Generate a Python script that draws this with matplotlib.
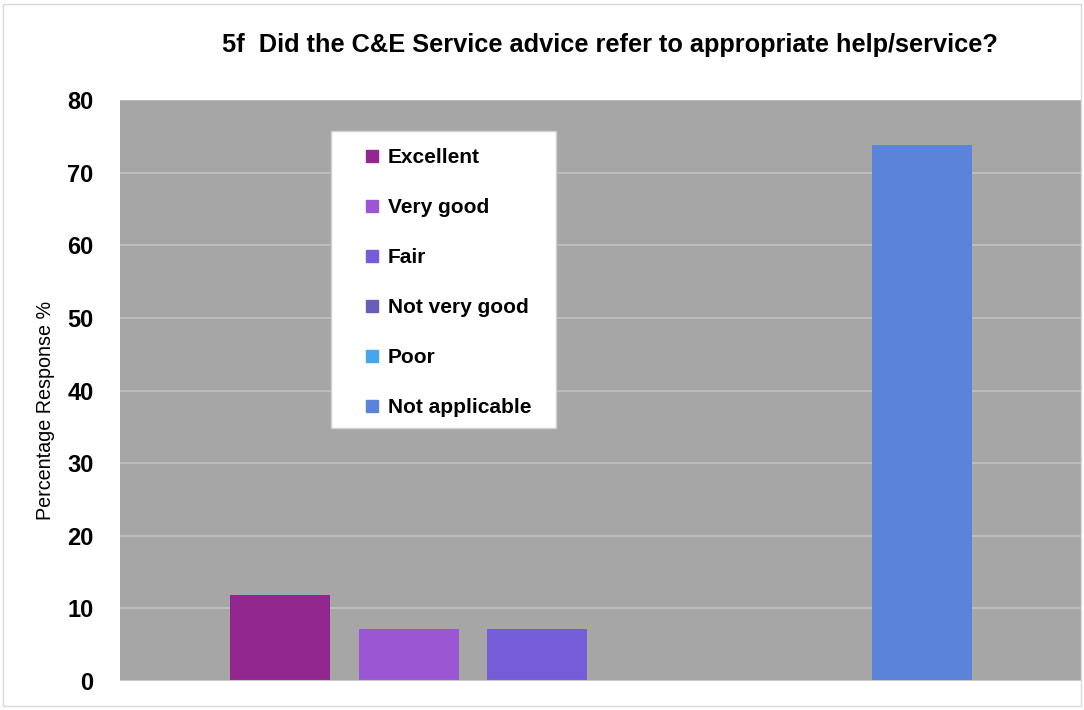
import matplotlib.pyplot as plt
from matplotlib.patches import Rectangle

categories = ['Excellent', 'Very good', 'Fair', 'Not very good', 'Poor', 'Not applicable']
values = [11.9, 7.1, 7.1, 0, 0, 73.8]
colors = ['#92278f', '#9b57d3', '#755dd9', '#665eb8', '#45a5ed', '#5b83d9']
yticks = [0, 10, 20, 30, 40, 50, 60, 70, 80]

plt.rcParams['font.family'] = ['Liberation Sans', 'DejaVu Sans']

fig = plt.figure(figsize=(10.84, 7.10), dpi=100)
ax = fig.add_axes([120 / 1084, 1 - 681 / 710, 962 / 1084, 581 / 710])
ax.set_facecolor('#a6a6a6')

xs = list(range(len(categories)))
for x, v, c, lab in zip(xs, values, colors, categories):
    ax.bar(x, v, width=0.78, color=c, label=lab, zorder=3)

ax.set_xlim(-1.25, 6.25)
ax.set_ylim(0, 80)
ax.set_yticks(yticks)
ax.set_yticklabels([str(t) for t in yticks], fontsize=17, fontweight='bold')
ax.set_xticks([])
ax.tick_params(axis='y', length=0, pad=19)
ax.grid(axis='y', color='#c0c0c0', lw=1.2, zorder=1)
for s in ax.spines.values():
    s.set_visible(False)
ax.axhline(0, color='#c8c8c8', lw=1.5, zorder=4)

# y-axis title sits a little below the axes centre
fig.text(46 / 1084, 1 - 410 / 710, 'Percentage Response %', rotation=90,
         ha='center', va='center', fontsize=14.2)

fig.text(610 / 1084, 1 - 45 / 710, '5f  Did the C&E Service advice refer to appropriate help/service?',
         ha='center', va='center', fontsize=18.3, fontweight='bold')

# white legend panel
ax.add_patch(Rectangle((0.219, 0.435), 0.234, 0.512, transform=ax.transAxes,
                       facecolor='white', edgecolor='#d0d0d0', lw=1, zorder=5))
handles = [plt.Line2D([], [], marker='s', ls='', markersize=9, color=c) for c in colors]
leg = ax.legend(handles, categories, loc='upper left', bbox_to_anchor=(0.245, 0.9316),
                frameon=False, prop={'weight': 'bold', 'size': 15},
                labelspacing=1.49, handlelength=0.75, handletextpad=0.4, borderaxespad=0)
leg.set_zorder(6)

# outer chart border
fig.add_artist(Rectangle((3 / 1084, 0.005), 1078 / 1084, 0.99, transform=fig.transFigure,
                         fill=False, edgecolor='#d9d9d9', lw=1))

fig.savefig('out.png', dpi=100, facecolor='white')
